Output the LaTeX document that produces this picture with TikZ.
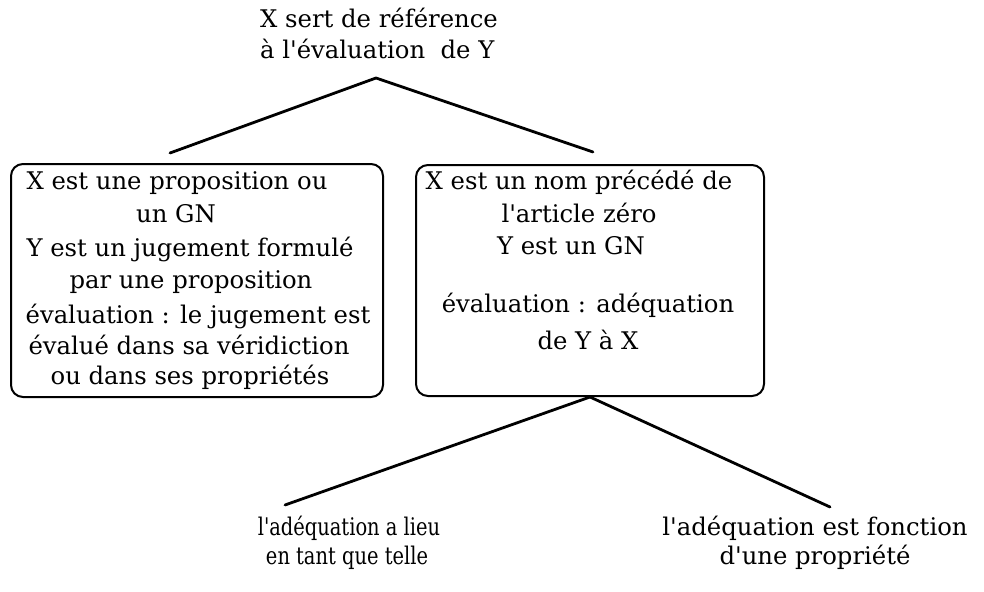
\documentclass[tikz,border=0pt]{standalone}
\usepackage{fontspec}
\newfontfamily\boxfont{DejaVu Serif}
\newfontfamily\leaffont{DejaVu Serif}[FakeStretch=0.8]
\begin{document}
\begin{tikzpicture}[x=1pt,y=-1pt,
  txt/.style={inner sep=0pt,anchor=base,font=\boxfont\fontsize{24.3}{30}\selectfont},
  leaf/.style={inner sep=0pt,anchor=base,font=\leaffont\fontsize{24.3}{30}\selectfont},
  frame/.style={draw,line width=2pt,rounded corners=12pt,minimum width=#1,inner sep=0pt},
  branch/.style={line width=2.8pt,line cap=round}]
\useasboundingbox (0,0) rectangle (984,591);

% heading
\node[txt,anchor=base west] (h1) at (260,28) {X sert de référence};
\node[txt,anchor=base west] (h2) at (260,59) {à l'évaluation\ \ de Y};

% upper fork
\coordinate (top) at (376,78);
\coordinate (tl) at (170,153);
\coordinate (tr) at (593,152);
\draw[branch] (tl) -- (top) -- (tr);

% left box
\node[frame=372pt,minimum height=233pt,anchor=north west] (boxL) at (10,163) {};
\node[txt] (l1) at (177,189) {X est une proposition ou};
\node[txt] (l2) at (176,222) {un GN};
\node[txt] (l3) at (190,256) {Y est un jugement formulé};
\node[txt] (l4) at (191,288) {par une proposition};
\node[txt] (l5) at (198,323) {évaluation : le jugement est};
\node[txt] (l6) at (189,354) {évalué dans sa véridiction};
\node[txt] (l7) at (190,384) {ou dans ses propriétés};

% right box
\node[frame=348pt,minimum height=231pt,anchor=north west] (boxR) at (415,164) {};
\node[txt] (r1) at (579,189) {X est un nom précédé de};
\node[txt] (r2) at (579,222) {l'article zéro};
\node[txt] (r3) at (571,254) {Y est un GN};
\node[txt] (r4) at (588,312) {évaluation : adéquation};
\node[txt] (r5) at (588,349) {de Y à X};

% lower fork
\coordinate (bl) at (285,505);
\coordinate (br) at (830,507);
\draw[branch] (bl) -- (boxR.south) -- (br);

% leaves
\node[leaf] (a1) at (349,535) {l'adéquation a lieu};
\node[leaf] (a2) at (347,564) {en tant que telle};
\node[txt] (b1) at (815,535) {l'adéquation est fonction};
\node[txt] (b2) at (815,564) {d'une propriété};
\end{tikzpicture}
\end{document}
